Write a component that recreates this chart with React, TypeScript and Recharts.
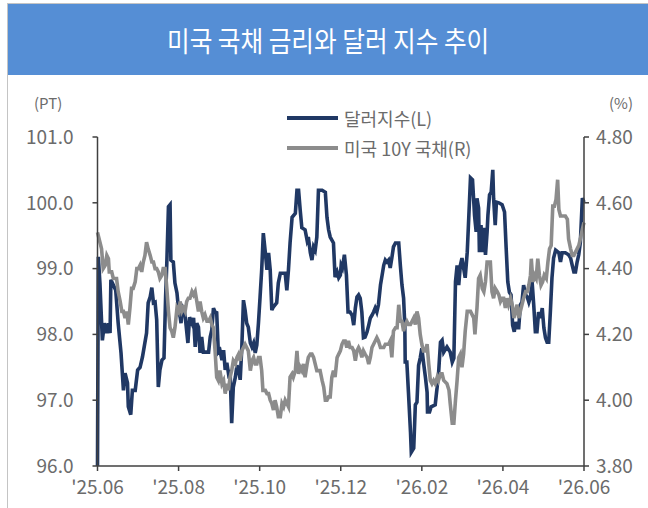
import React from "react";
import { LineChart, Line, XAxis, YAxis } from "recharts";

// ── Data (x = months since Jun 2025) ─────────────────────────────────────────

const monthTicks = [0, 2, 4, 6, 8, 10, 12];
const monthLabels = ["'25.06", "'25.08", "'25.10", "'25.12", "'26.02", "'26.04", "'26.06"];
const dxyTicks = [96, 97, 98, 99, 100, 101];
const yieldTicks = [3.8, 4.0, 4.2, 4.4, 4.6, 4.8];

// 달러지수 (left axis, pt)
const dxySeries: [number, number][] = [
  [0, 96.0], [0.02, 99.18], [0.06, 98.78], [0.12, 97.91], [0.17, 98.17], [0.23, 98.02], [0.27, 98.17], [0.31, 98.02],
  [0.33, 98.83], [0.39, 98.75], [0.45, 98.67], [0.51, 98.17], [0.58, 97.72], [0.64, 97.15], [0.68, 97.41], [0.74, 97.26],
  [0.76, 96.9], [0.82, 96.78], [0.86, 97.15], [0.93, 97.15], [0.99, 97.46], [1.05, 97.5], [1.11, 97.66], [1.16, 97.84],
  [1.21, 98.02], [1.25, 98.48], [1.3, 98.57], [1.34, 98.71], [1.38, 98.48], [1.42, 98.49], [1.46, 98.22], [1.5, 97.2],
  [1.54, 97.46], [1.59, 97.61], [1.64, 97.64], [1.68, 98.57], [1.71, 99.09], [1.75, 99.94], [1.79, 99.97], [1.81, 99.13],
  [1.87, 99.1], [1.91, 98.78], [1.96, 98.63], [2.0, 98.37], [2.04, 98.26], [2.06, 98.17], [2.09, 98.42], [2.14, 98.37],
  [2.18, 98.17], [2.23, 97.87], [2.27, 98.26], [2.33, 98.17], [2.37, 98.25], [2.41, 97.81], [2.45, 98.17], [2.49, 98.11],
  [2.53, 97.72], [2.57, 97.96], [2.61, 97.73], [2.74, 97.73], [2.78, 97.96], [2.82, 98.07], [2.86, 98.4], [2.9, 98.34],
  [2.94, 98.33], [2.98, 97.73], [3.02, 97.76], [3.07, 97.61], [3.11, 97.76], [3.15, 97.46], [3.19, 97.57], [3.23, 97.41],
  [3.27, 97.46], [3.31, 96.65], [3.35, 97.2], [3.4, 97.35], [3.44, 97.53], [3.48, 97.46], [3.52, 97.31], [3.56, 97.81],
  [3.6, 98.52], [3.64, 98.37], [3.68, 98.17], [3.72, 98.11], [3.77, 97.87], [3.81, 97.81], [3.85, 97.87], [3.89, 97.72],
  [3.93, 97.84], [3.97, 98.17], [4.01, 98.57], [4.05, 98.98], [4.09, 99.54], [4.14, 99.24], [4.18, 98.98], [4.22, 99.24],
  [4.26, 98.98], [4.3, 98.37], [4.34, 98.42], [4.42, 98.48], [4.46, 98.78], [4.51, 98.93], [4.63, 98.93], [4.67, 98.67],
  [4.71, 98.98], [4.75, 99.39], [4.8, 99.78], [4.88, 99.84], [4.92, 100.19], [4.96, 100.19], [5.0, 99.89], [5.04, 99.62],
  [5.12, 99.59], [5.17, 99.43], [5.2, 99.48], [5.25, 99.24], [5.29, 99.13], [5.33, 99.33], [5.37, 99.28], [5.41, 99.48],
  [5.45, 100.19], [5.54, 100.19], [5.62, 100.16], [5.66, 99.78], [5.7, 99.59], [5.74, 99.48], [5.82, 99.39], [5.86, 98.87],
  [5.91, 98.95], [5.95, 98.86], [5.99, 98.9], [6.01, 99.05], [6.04, 99.01], [6.09, 99.21], [6.14, 98.9], [6.18, 98.34],
  [6.23, 98.34], [6.28, 98.29], [6.32, 98.14], [6.36, 98.4], [6.4, 98.57], [6.44, 98.6], [6.48, 98.55], [6.52, 98.34],
  [6.56, 97.95], [6.6, 97.96], [6.65, 98.04], [6.69, 98.14], [6.73, 98.25], [6.77, 98.29], [6.81, 98.34], [6.85, 98.4],
  [6.89, 98.34], [6.93, 98.45], [6.98, 98.75], [7.02, 98.9], [7.06, 99.05], [7.1, 99.13], [7.14, 99.1], [7.18, 99.13],
  [7.22, 99.01], [7.26, 99.16], [7.3, 99.33], [7.35, 99.39], [7.43, 99.39], [7.47, 99.05], [7.51, 98.75], [7.55, 98.55],
  [7.58, 98.14], [7.59, 97.58], [7.63, 97.58], [7.67, 97.12], [7.72, 96.52], [7.74, 96.21], [7.8, 96.27], [7.84, 96.93],
  [7.88, 96.97], [7.92, 97.53], [7.96, 97.64], [8.0, 97.79], [8.04, 97.58], [8.09, 97.34], [8.13, 97.12], [8.14, 96.82],
  [8.19, 96.82], [8.23, 96.9], [8.33, 96.93], [8.41, 97.38], [8.46, 97.88], [8.5, 97.91], [8.54, 97.73], [8.62, 97.81],
  [8.7, 97.73], [8.75, 97.58], [8.79, 97.64], [8.83, 98.8], [8.87, 99.05], [8.91, 98.75], [8.95, 99.05], [8.99, 99.16],
  [9.03, 99.01], [9.07, 98.86], [9.12, 99.25], [9.16, 99.81], [9.2, 100.38], [9.25, 100.35], [9.3, 99.81], [9.34, 99.56],
  [9.36, 100.07], [9.4, 99.92], [9.42, 99.25], [9.46, 99.66], [9.49, 99.25], [9.53, 99.62], [9.57, 99.21], [9.61, 99.56],
  [9.63, 99.81], [9.67, 100.12], [9.71, 100.16], [9.75, 100.5], [9.77, 100.07], [9.81, 99.66], [9.84, 100.01], [9.9, 100.0],
  [9.98, 99.97], [10.04, 99.86], [10.08, 99.31], [10.12, 98.8], [10.16, 98.64], [10.2, 98.6], [10.24, 98.14], [10.28, 98.04],
  [10.31, 98.19], [10.35, 98.1], [10.39, 98.1], [10.43, 98.45], [10.47, 98.49], [10.51, 98.75], [10.56, 98.6], [10.6, 98.57],
  [10.64, 98.49], [10.68, 98.57], [10.72, 98.8], [10.76, 98.45], [10.8, 98.04], [10.84, 98.04], [10.88, 98.34], [10.93, 98.25],
  [10.97, 98.4], [11.01, 98.1], [11.05, 97.95], [11.09, 97.88], [11.13, 97.88], [11.17, 98.34], [11.21, 98.86], [11.25, 99.16],
  [11.3, 99.28], [11.38, 99.24], [11.42, 99.1], [11.46, 99.24], [11.54, 99.24], [11.62, 99.21], [11.67, 99.16], [11.71, 99.05],
  [11.75, 98.95], [11.79, 98.95], [11.83, 99.1], [11.87, 99.21], [11.91, 99.4], [11.96, 100.07], [12.0, 100.01],
];

// 미국 10Y 국채 (right axis, %)
const ust10ySeries: [number, number][] = [
  [0, 4.51], [0.02, 4.5], [0.06, 4.48], [0.1, 4.46], [0.14, 4.4], [0.19, 4.41], [0.23, 4.44], [0.27, 4.43],
  [0.29, 4.39], [0.35, 4.39], [0.39, 4.37], [0.43, 4.37], [0.47, 4.37], [0.51, 4.33], [0.56, 4.3], [0.6, 4.27],
  [0.64, 4.27], [0.68, 4.25], [0.72, 4.27], [0.76, 4.23], [0.8, 4.28], [0.84, 4.34], [0.88, 4.34], [0.93, 4.36],
  [0.97, 4.4], [1.01, 4.4], [1.05, 4.41], [1.09, 4.39], [1.13, 4.42], [1.17, 4.44], [1.21, 4.48], [1.25, 4.46],
  [1.3, 4.44], [1.34, 4.42], [1.38, 4.42], [1.42, 4.4], [1.46, 4.4], [1.5, 4.39], [1.54, 4.37], [1.59, 4.38],
  [1.62, 4.4], [1.67, 4.4], [1.71, 4.34], [1.75, 4.27], [1.79, 4.22], [1.83, 4.21], [1.87, 4.19], [1.91, 4.22],
  [1.96, 4.28], [2.0, 4.27], [2.04, 4.3], [2.08, 4.27], [2.12, 4.28], [2.16, 4.27], [2.2, 4.3], [2.24, 4.31],
  [2.28, 4.31], [2.33, 4.33], [2.37, 4.32], [2.41, 4.33], [2.45, 4.3], [2.49, 4.27], [2.53, 4.3], [2.57, 4.27],
  [2.61, 4.25], [2.65, 4.26], [2.7, 4.24], [2.74, 4.24], [2.78, 4.25], [2.82, 4.23], [2.86, 4.22], [2.9, 4.15],
  [2.94, 4.07], [2.98, 4.06], [3.02, 4.09], [3.07, 4.05], [3.11, 4.06], [3.15, 4.02], [3.19, 4.05], [3.23, 4.03],
  [3.27, 4.07], [3.31, 4.09], [3.35, 4.12], [3.4, 4.11], [3.44, 4.13], [3.48, 4.14], [3.52, 4.12], [3.56, 4.15],
  [3.6, 4.16], [3.64, 4.17], [3.68, 4.16], [3.72, 4.15], [3.77, 4.09], [3.81, 4.12], [3.85, 4.13], [3.89, 4.11],
  [3.93, 4.11], [3.97, 4.13], [4.01, 4.13], [4.05, 4.09], [4.08, 4.03], [4.14, 4.03], [4.18, 4.02], [4.22, 4.02],
  [4.26, 4.0], [4.3, 3.99], [4.34, 3.97], [4.38, 4.0], [4.42, 3.98], [4.46, 3.95], [4.51, 3.95], [4.55, 3.99],
  [4.59, 3.98], [4.63, 4.0], [4.67, 3.99], [4.71, 3.98], [4.75, 4.07], [4.8, 4.08], [4.83, 4.07], [4.88, 4.09],
  [4.92, 4.15], [4.96, 4.08], [5.0, 4.1], [5.04, 4.09], [5.08, 4.11], [5.12, 4.07], [5.17, 4.11], [5.2, 4.13],
  [5.25, 4.14], [5.29, 4.14], [5.33, 4.13], [5.37, 4.11], [5.41, 4.09], [5.49, 4.09], [5.54, 4.06], [5.58, 4.04],
  [5.62, 4.0], [5.66, 4.0], [5.7, 4.01], [5.74, 4.01], [5.78, 4.07], [5.82, 4.09], [5.86, 4.07], [5.91, 4.13],
  [5.95, 4.14], [5.99, 4.15], [6.03, 4.17], [6.07, 4.18], [6.11, 4.18], [6.15, 4.16], [6.19, 4.18], [6.23, 4.16],
  [6.28, 4.16], [6.32, 4.15], [6.36, 4.12], [6.4, 4.15], [6.44, 4.16], [6.48, 4.15], [6.52, 4.13], [6.56, 4.15],
  [6.6, 4.14], [6.65, 4.13], [6.69, 4.11], [6.73, 4.13], [6.77, 4.16], [6.81, 4.17], [6.85, 4.18], [6.89, 4.19],
  [6.93, 4.18], [6.98, 4.16], [7.06, 4.16], [7.1, 4.17], [7.18, 4.17], [7.22, 4.18], [7.26, 4.13], [7.3, 4.21],
  [7.35, 4.22], [7.39, 4.22], [7.43, 4.29], [7.47, 4.24], [7.51, 4.24], [7.55, 4.21], [7.59, 4.23], [7.63, 4.24],
  [7.67, 4.23], [7.72, 4.23], [7.76, 4.24], [7.8, 4.25], [7.84, 4.23], [7.88, 4.27], [7.92, 4.25], [7.96, 4.2],
  [8.0, 4.17], [8.04, 4.15], [8.09, 4.15], [8.13, 4.17], [8.17, 4.11], [8.21, 4.06], [8.25, 4.05], [8.29, 4.06],
  [8.33, 4.05], [8.38, 4.07], [8.41, 4.06], [8.46, 4.08], [8.5, 4.08], [8.54, 4.06], [8.62, 4.05], [8.67, 4.03],
  [8.7, 3.99], [8.75, 3.93], [8.79, 3.93], [8.83, 4.0], [8.87, 4.06], [8.91, 4.13], [8.95, 4.14], [8.99, 4.1],
  [9.03, 4.14], [9.07, 4.21], [9.12, 4.27], [9.16, 4.27], [9.2, 4.27], [9.24, 4.26], [9.28, 4.25], [9.31, 4.2],
  [9.34, 4.25], [9.36, 4.28], [9.4, 4.37], [9.44, 4.38], [9.49, 4.34], [9.53, 4.33], [9.57, 4.36], [9.61, 4.42],
  [9.69, 4.42], [9.73, 4.33], [9.77, 4.31], [9.81, 4.34], [9.86, 4.33], [9.9, 4.32], [9.94, 4.3], [9.98, 4.31],
  [10.02, 4.31], [10.06, 4.28], [10.1, 4.31], [10.14, 4.29], [10.19, 4.31], [10.23, 4.29], [10.27, 4.25], [10.31, 4.27],
  [10.35, 4.29], [10.39, 4.25], [10.43, 4.27], [10.47, 4.29], [10.51, 4.31], [10.56, 4.33], [10.6, 4.33], [10.64, 4.35],
  [10.68, 4.38], [10.7, 4.43], [10.74, 4.36], [10.78, 4.38], [10.82, 4.37], [10.86, 4.43], [10.9, 4.38], [10.94, 4.35],
  [10.98, 4.36], [11.02, 4.38], [11.07, 4.37], [11.11, 4.42], [11.15, 4.46], [11.19, 4.47], [11.23, 4.59], [11.27, 4.59],
  [11.31, 4.61], [11.35, 4.67], [11.38, 4.58], [11.42, 4.56], [11.46, 4.56], [11.5, 4.56], [11.54, 4.56], [11.59, 4.55],
  [11.62, 4.49], [11.67, 4.46], [11.71, 4.44], [11.75, 4.44], [11.79, 4.45], [11.83, 4.46], [11.87, 4.47], [11.91, 4.49],
  [11.96, 4.52], [12.0, 4.54],
];

// ── Palette / fonts ───────────────────────────────────────────────────────────

const FONT = "'Noto Sans CJK KR', 'Noto Sans', sans-serif";
const NAVY = "#203864";
const GREY = "#8c8c8c";
const AXIS = "#404040";
const LABEL = "#6b6b6b";

const legendItems = [
  { name: "달러지수(L)", color: NAVY },
  { name: "미국 10Y 국채(R)", color: GREY },
];

// merge both series onto one x table
type Row = { t: number; dxy?: number; ust?: number };
const rowMap = new Map<number, Row>();
dxySeries.forEach(([t, v]) => rowMap.set(t, { ...(rowMap.get(t) ?? { t }), dxy: v }));
ust10ySeries.forEach(([t, v]) => rowMap.set(t, { ...(rowMap.get(t) ?? { t }), ust: v }));
const rows = Array.from(rowMap.values()).sort((a, b) => a.t - b.t);

const tickStyle = { fill: LABEL, fontSize: 19, fontFamily: FONT };

export default function App() {
  return (
    <div
      style={{
        position: "absolute",
        left: 0,
        top: 0,
        width: 648,
        height: 508,
        overflow: "hidden",
        background: "#fff",
        fontFamily: FONT,
      }}
    >
      {/* frame */}
      <div
        style={{
          position: "absolute",
          left: 7,
          top: 3,
          width: 645,
          height: 510,
          borderLeft: "1px solid #c4c4c4",
          borderTop: "1px solid #c4c4c4",
        }}
      />
      {/* title bar */}
      <div
        style={{
          position: "absolute",
          left: 8,
          top: 4,
          width: 640,
          height: 71,
          background: "#558ed5",
          display: "flex",
          alignItems: "center",
          justifyContent: "center",
        }}
      >
        <span
          style={{
            color: "#fff",
            fontSize: 28,
            whiteSpace: "nowrap",
            display: "inline-block",
            transform: "scaleX(0.88)",
          }}
        >
          미국 국채 금리와 달러 지수 추이
        </span>
      </div>

      {/* unit labels */}
      <div style={{ position: "absolute", left: 34, top: 92, fontSize: 15, color: LABEL }}>(PT)</div>
      <div style={{ position: "absolute", left: 609, top: 92, fontSize: 15, color: LABEL }}>(%)</div>

      {/* chart */}
      <div style={{ position: "absolute", left: 0, top: 0 }}>
        <LineChart width={648} height={508} data={rows} margin={{ top: 137, right: 4, bottom: 12, left: 37.5 }}>
          <XAxis
            dataKey="t"
            type="number"
            domain={[0, 12]}
            ticks={monthTicks}
            tickFormatter={(v: number) => monthLabels[monthTicks.indexOf(v)] ?? ""}
            tick={tickStyle}
            tickSize={5}
            tickMargin={10}
            height={30}
            stroke={AXIS}
            strokeWidth={1.5}
            interval={0}
          />
          <YAxis
            yAxisId="l"
            domain={[96, 101]}
            ticks={dxyTicks}
            tickFormatter={(v: number) => v.toFixed(1)}
            tick={tickStyle}
            tickSize={5}
            tickMargin={19}
            width={60}
            stroke={AXIS}
            strokeWidth={1.5}
            interval={0}
          />
          <YAxis
            yAxisId="r"
            orientation="right"
            domain={[3.8, 4.8]}
            ticks={yieldTicks}
            tickFormatter={(v: number) => v.toFixed(2)}
            tick={tickStyle}
            tickSize={5}
            tickMargin={7}
            width={60}
            stroke={AXIS}
            strokeWidth={1.5}
            interval={0}
          />
          <Line
            yAxisId="l"
            dataKey="dxy"
            type="linear"
            stroke={NAVY}
            strokeWidth={3.6}
            dot={false}
            activeDot={false}
            connectNulls
            isAnimationActive={false}
          />
          <Line
            yAxisId="r"
            dataKey="ust"
            type="linear"
            stroke={GREY}
            strokeWidth={3.6}
            dot={false}
            activeDot={false}
            connectNulls
            isAnimationActive={false}
          />
        </LineChart>
      </div>

      {/* legend */}
      <div style={{ position: "absolute", left: 287, top: 103 }}>
        {legendItems.map((it) => (
          <div key={it.name} style={{ display: "flex", alignItems: "center", height: 30 }}>
            <div style={{ width: 51, height: 4, background: it.color, marginRight: 6 }} />
            <span style={{ fontSize: 18, color: LABEL, whiteSpace: "nowrap" }}>{it.name}</span>
          </div>
        ))}
      </div>
    </div>
  );
}
